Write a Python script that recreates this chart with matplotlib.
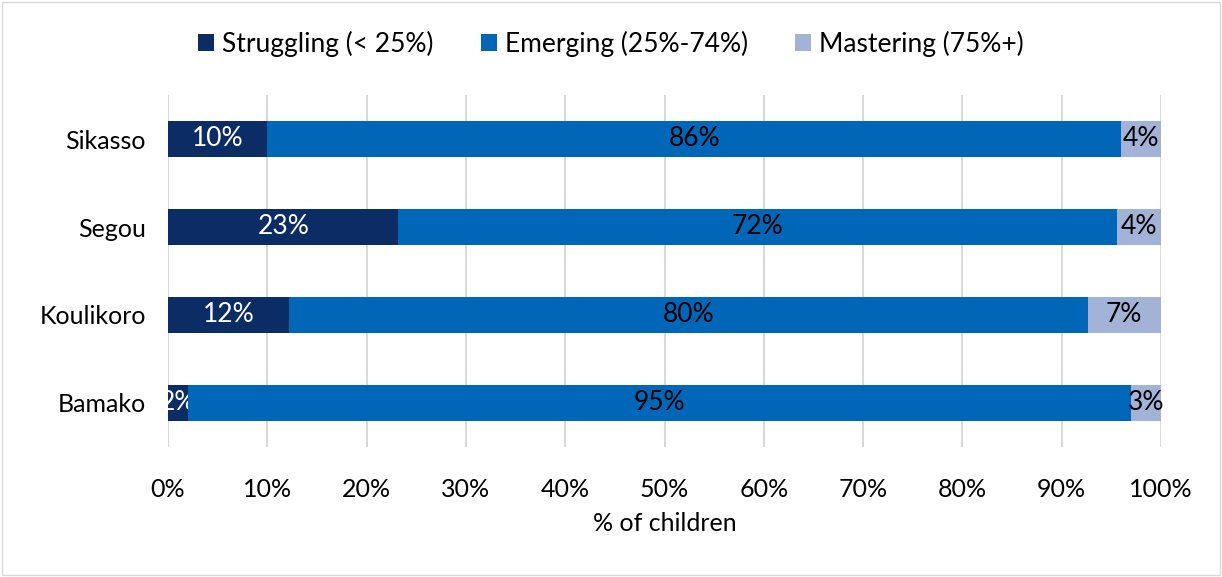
import matplotlib.pyplot as plt
import numpy as np

plt.rcParams['font.family'] = ['Lato', 'DejaVu Sans']

# 地区与各水平占比（%）
regions = ['Sikasso', 'Segou', 'Koulikoro', 'Bamako']
struggling = [10, 23.2, 12.2, 2]
emerging = [86, 72.4, 80.4, 95]
mastering = [4, 4.4, 7.4, 3]

series = [
    ('Struggling (< 25%)', struggling, '#0B2C64', 'white'),
    ('Emerging (25%-74%)', emerging, '#0067B8', 'black'),
    ('Mastering (75%+)', mastering, '#A3B3D8', 'black'),
]

fig = plt.figure(figsize=(12.22, 5.77), dpi=100)
ax = fig.add_axes([168 / 1222, 1 - 447 / 577, 993 / 1222, 352 / 577])

y = np.arange(len(regions))
left = np.zeros(len(regions))
for name, vals, color, tcolor in series:
    vals = np.array(vals)
    bars = ax.barh(y, vals, left=left, height=0.4, color=color, label=name, zorder=3)
    ax.bar_label(bars, labels=[f'{v:.0f}%' for v in vals], label_type='center',
                 color=tcolor, fontsize=19)
    left += vals

ax.set_xlim(0, 100)
ax.set_ylim(3.5, -0.5)
ax.set_yticks(y)
ax.set_yticklabels(regions, fontsize=18)
ax.set_xticks(np.arange(0, 101, 10))
ax.set_xticklabels([f'{t}%' for t in range(0, 101, 10)], fontsize=18)
ax.set_xlabel('% of children', fontsize=18, labelpad=8)
ax.tick_params(axis='x', length=0, pad=22)
ax.tick_params(axis='y', length=0, pad=16)
ax.grid(axis='x', color='#D9D9D9', linewidth=1.5, zorder=0)
for s in ax.spines.values():
    s.set_visible(False)

fig.legend(loc='center', bbox_to_anchor=(0.5, 1 - 44 / 577), ncol=3, frameon=False,
           fontsize=19, handlelength=0.6, handleheight=0.6, handletextpad=0.3,
           columnspacing=1.8)

# 外边框
fig.patches.append(plt.Rectangle((0.002, 0.003), 0.996, 0.994, transform=fig.transFigure,
                                 fill=False, edgecolor='#D9D9D9', linewidth=1))

plt.savefig('out.png', dpi=100)
